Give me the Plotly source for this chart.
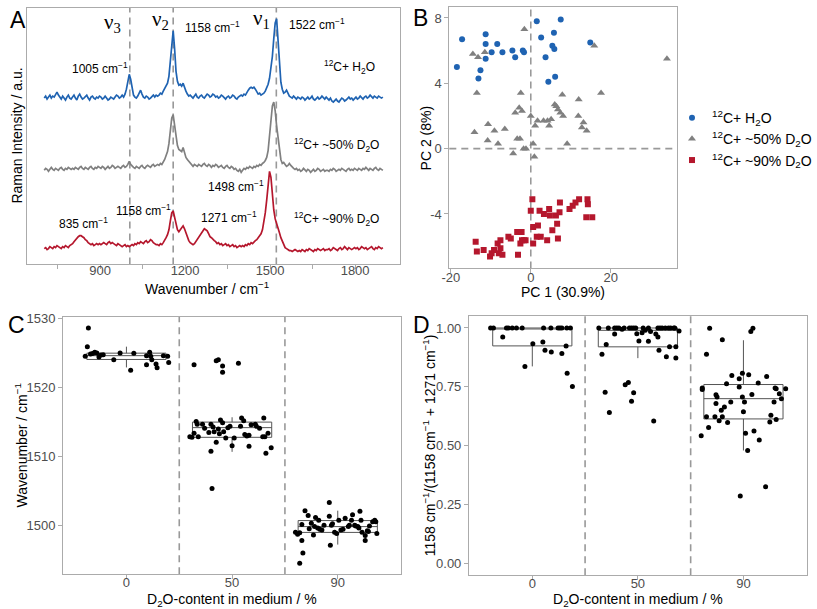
import plotly.graph_objects as go

# ---------------- DATA ----------------
# Panel A: Raman spectra (stacked, arbitrary units), wavenumber grid 703..1898 step 5
wavenumber = list(range(703, 1899, 5))
spec_h2o = [
    168,170,167,169,171,168,170,169,172,174,171,169,167,170,168,166,169,171,168,167,
    169,171,168,166,170,172,169,167,168,170,171,168,166,169,170,168,167,169,168,170,
    169,167,168,170,168,166,167,169,168,167,169,171,170,168,169,171,169,172,177,185,
    192,187,178,171,169,168,170,174,176,172,169,168,170,169,167,168,170,171,169,171,
    170,171,173,172,175,178,180,183,190,205,225,236,218,195,185,181,182,180,183,178,
    175,172,170,171,169,168,170,172,169,168,170,171,169,168,170,172,171,169,170,172,
    171,169,170,168,169,171,170,168,167,169,170,168,169,171,170,168,167,169,170,171,
    170,172,171,174,176,178,179,178,179,177,174,172,173,171,172,173,175,178,182,188,
    197,210,228,244,248,225,200,184,177,173,174,176,173,170,169,168,170,168,167,169,
    168,167,169,168,166,168,169,167,168,170,167,166,168,169,167,168,170,168,167,169,
    167,166,168,165,164,166,167,165,164,166,168,167,165,166,168,169,167,168,166,168,
    169,167,168,170,168,167,169,170,168,169,171,169,168,170,169,168,170,169,168,169]
spec_d2o50 = [
    95,97,96,94,96,98,96,95,97,96,95,97,98,96,95,97,96,98,97,96,
    97,96,98,97,96,98,99,97,96,98,97,96,98,99,97,96,98,97,99,98,
    97,99,98,96,98,99,97,98,100,99,97,98,99,98,97,99,100,98,99,101,
    104,101,99,98,97,99,98,97,99,100,98,97,99,100,99,98,100,101,99,100,
    101,100,102,101,103,106,110,114,122,135,148,151,140,128,120,116,115,114,118,112,
    108,106,104,102,100,99,101,100,99,101,100,99,101,102,100,99,101,100,98,100,
    99,101,100,98,99,100,98,97,99,100,98,97,99,98,96,97,95,94,96,93,
    95,97,96,98,97,99,98,97,99,98,100,99,101,100,102,103,105,108,115,128,
    145,160,164,155,140,128,115,106,102,103,101,99,100,102,100,98,97,96,97,95,
    96,94,95,97,95,94,96,95,93,95,96,94,95,97,96,94,95,96,94,95,
    95,94,96,95,97,96,94,95,96,95,97,96,95,94,96,97,95,96,95,97,
    96,95,97,96,95,97,96,98,96,95,97,96,95,97,98,96,95,97,96,95]
spec_d2o90 = [
    16,17,15,16,18,17,16,18,17,19,18,17,16,18,17,19,18,17,19,20,
    21,23,25,27,28,29,29,28,27,25,24,22,21,20,21,19,20,21,20,21,
    20,21,22,21,20,22,23,21,22,21,20,19,21,20,19,18,19,20,18,19,
    18,19,20,19,21,20,22,21,23,22,21,23,24,22,23,25,24,22,21,20,
    20,19,21,20,22,24,27,30,35,44,52,54,48,40,35,33,35,38,39,36,
    32,27,24,22,21,20,21,23,25,28,30,32,33,36,35,34,31,28,27,25,
    24,23,21,22,20,21,19,20,21,19,20,18,19,20,18,19,17,18,19,18,
    19,18,20,19,21,20,22,21,23,24,25,27,28,31,35,42,52,65,82,94,
    88,70,55,46,42,38,32,27,23,20,17,16,15,14,14,13,14,15,14,13,
    14,13,15,14,13,15,14,16,15,14,13,15,14,16,15,14,15,16,14,15,
    15,16,14,15,17,16,15,14,16,17,15,16,18,16,15,17,16,15,16,17,
    16,17,15,16,18,17,16,17,15,16,17,18,16,15,17,16,18,17,16,17]
band_lines = [1005, 1158, 1522]

# Panel B: PCA scores
pc_h2o_x = [-18.5,-17.2,-13.1,-12.6,-11.3,-11.3,-11.3,-9.8,-8.4,-7.1,-4.6,-3.9,-2.0,-1.7,1.5,2.6,3.7,4.4,5.4,5.8,5.9,6.1,7.5,14.9]
pc_h2o_y = [5.0,6.7,4.3,4.8,7.0,6.4,5.5,5.9,6.4,5.9,6.0,5.6,6.0,5.9,7.8,6.8,5.6,4.1,6.3,7.1,6.1,4.4,7.9,6.5]
pc_50_x = [-14.5,-13.2,-11.5,-13.5,-14.1,-10.7,-9.1,-6.5,-10.8,-8.2,-4.4,-3.9,-3.4,-2.9,-2.5,-2.7,-2.2,-1.8,-1.6,-1.2,
           0.0,0.6,0.9,1.1,1.7,3.2,4.2,5.1,4.6,6.0,6.4,6.8,7.4,7.9,8.1,9.1,12.0,11.9,13.2,12.8,14.0,15.9,17.6,34.1]
pc_50_y = [5.8,5.6,5.9,3.4,1.0,1.5,1.1,1.2,0.5,0.3,-0.3,2.2,0.6,2.5,3.4,0.6,2.3,0.0,7.3,0.0,
           2.0,0.3,-0.5,1.4,1.7,1.7,1.7,1.8,1.4,2.7,2.6,2.4,2.2,3.3,2.0,0.3,3.0,2.0,1.6,1.3,1.1,6.3,3.4,5.5]
pc_90_x = [-13.8,-13.5,-11.8,-10.2,-9.8,-9.2,-8.3,-8.0,-7.6,-7.6,-7.1,-5.6,-5.0,-3.4,-3.2,-2.6,-2.3,-2.2,-1.7,-1.3,
           0.0,0.4,0.6,0.6,1.5,1.8,2.2,2.5,3.3,4.1,4.6,4.8,5.4,6.3,6.6,6.8,7.2,7.3,9.7,10.5,11.2,12.1,13.9,14.2,14.3,15.4]
pc_90_y = [-5.7,-6.3,-6.2,-6.6,-6.4,-6.2,-5.8,-6.4,-5.6,-6.1,-6.5,-5.4,-5.5,-5.1,-6.5,-5.8,-5.1,-5.6,-5.6,-5.6,
           -3.8,-3.1,-4.8,-5.8,-5.4,-4.7,-3.8,-5.4,-4.0,-5.6,-3.7,-4.1,-5.0,-4.1,-4.6,-5.5,-3.9,-3.3,-3.7,-3.5,-3.3,-3.1,-4.2,-3.1,-3.4,-4.2]

# Panels C and D: categories
groups = ["0", "50", "90"]
group_pos = [1, 2, 3]

# Panel C: nu1 band position, box statistics
c_q1 = [1524.05, 1512.8, 1499.06]
c_med = [1524.6, 1514.2, 1499.9]
c_q3 = [1524.96, 1515.0, 1500.77]
c_lo = [1522.9, 1510.7, 1497.3]
c_hi = [1525.9, 1515.7, 1502.2]
# individual cells (horizontal jitter, value)
c0_jit = [-0.39,-0.36,-0.37,-0.34,-0.32,-0.30,-0.28,-0.26,-0.24,-0.22,-0.12,-0.06,0.04,0.07,0.19,0.19,0.22,0.23,0.24,0.28,0.29,0.35,0.39,0.40]
c0_val = [1524.5,1528.6,1525.9,1524.85,1524.9,1525.1,1525.0,1524.4,1524.7,1524.75,1524.0,1525.0,1522.5,1524.95,1523.3,1524.6,1525.1,1524.5,1524.0,1523.4,1522.85,1524.6,1524.5,1523.6]
c1_jit = [-0.36,-0.15,-0.13,-0.09,-0.09,0.06,-0.19,-0.20,-0.40,-0.38,-0.36,-0.34,-0.33,-0.32,-0.28,-0.26,-0.22,-0.20,-0.18,-0.17,
          -0.15,-0.13,-0.12,-0.11,-0.09,-0.08,-0.06,-0.04,-0.02,0.00,0.02,0.08,0.09,0.11,0.12,0.14,0.16,0.16,0.18,0.22,
          0.23,0.26,0.29,0.30,0.31,0.32,0.34,0.37]
c1_val = [1523.3,1523.85,1524.0,1523.1,1522.2,1523.5,1505.4,1510.8,1512.9,1512.8,1513.4,1515.1,1514.7,1512.9,1514.7,1514.1,1513.5,1514.7,1514.3,1513.6,
          1512.1,1514.0,1513.3,1515.3,1514.9,1513.6,1512.7,1514.2,1514.4,1511.6,1512.7,1514.4,1515.6,1515.2,1513.2,1513.0,1513.1,1511.5,1514.6,1514.7,
          1514.4,1514.1,1512.9,1515.6,1512.9,1510.5,1513.4,1511.3]
c2_jit = [-0.08,-0.31,-0.28,-0.21,-0.18,-0.34,-0.25,-0.19,-0.22,-0.17,-0.15,-0.13,-0.08,-0.06,-0.03,-0.01,0.01,0.05,0.07,0.11,
          0.13,0.14,0.16,0.17,0.19,0.20,0.21,0.22,0.23,0.26,0.26,0.28,0.29,0.33,0.35,0.37,-0.40,-0.38,-0.36,-0.34,
          -0.23,-0.07,-0.36,-0.33,0.30,0.36,-0.05,0.10,-0.27,0.03]
c2_val = [1503.4,1502.2,1501.5,1501.2,1500.8,1500.2,1500.4,1499.7,1499.9,1499.5,1499.4,1500.1,1501.4,1500.1,1499.1,1498.9,1500.8,1499.5,1501.1,1500.1,
          1500.8,1501.6,1500.1,1500.0,1499.9,1499.7,1502.1,1500.8,1499.1,1498.6,1497.9,1499.3,1499.2,1500.6,1500.8,1498.9,1499.1,1498.8,1499.0,1497.9,
          1498.7,1497.2,1494.6,1496.1,1500.0,1500.6,1500.3,1499.9,1499.6,1499.4]

# Panel D: band ratio 1158/(1158+1271), box statistics
d_q1 = [0.924, 0.92, 0.614]
d_med = [1.0, 0.99, 0.70]
d_q3 = [1.0, 1.0, 0.76]
d_lo = [0.837, 0.872, 0.48]
d_hi = [1.0, 1.0, 0.948]
d0_jit = [-0.395,-0.368,-0.245,-0.227,-0.19,-0.15,-0.096,0.107,0.176,0.244,0.262,0.28,0.327,0.361,
          -0.28,-0.07,0.005,0.10,0.12,0.18,0.28,0.32,0.33,0.38]
d0_val = [1.0,1.0,1.0,1.0,1.0,1.0,1.0,1.0,1.0,1.0,1.0,1.0,1.0,1.0,
          0.962,0.836,0.933,0.941,0.906,0.898,0.892,0.924,0.808,0.752]
d1_jit = [-0.37,-0.28,-0.22,-0.20,-0.18,-0.13,-0.08,-0.06,-0.04,-0.02,0.05,0.10,0.19,0.21,0.23,0.26,0.29,0.31,0.34,0.35,
          -0.34,-0.30,-0.22,0.01,-0.01,0.04,0.10,0.17,0.19,0.20,0.27,0.30,0.36,0.36,0.39,-0.31,-0.12,-0.09,-0.06,-0.04,
          -0.27,0.15,0.07,0.12,-0.15]
d1_val = [1.0,1.0,1.0,1.0,1.0,1.0,1.0,1.0,1.0,1.0,1.0,1.0,1.0,1.0,1.0,1.0,1.0,1.0,1.0,1.0,
          0.889,0.93,0.975,0.945,0.976,0.98,0.944,0.975,0.962,0.906,0.878,0.92,0.92,0.873,0.987,0.727,0.759,0.769,0.689,0.725,
          0.641,0.605,0.99,0.985,0.995]
d2_jit = [-0.32,-0.35,-0.20,0.07,0.09,-0.39,-0.39,-0.35,-0.33,-0.40,-0.26,-0.25,-0.26,-0.27,-0.21,-0.20,-0.18,-0.23,-0.16,-0.15,
          -0.12,-0.11,-0.04,-0.04,-0.01,-0.01,0.0,0.01,0.02,0.04,0.05,0.08,0.10,0.14,0.15,0.22,0.26,0.29,0.30,0.31,
          0.25,0.31,0.34,0.36,0.40,-0.03,0.21]
d2_val = [0.999,0.889,0.95,0.985,0.999,0.745,0.739,0.623,0.578,0.543,0.717,0.707,0.679,0.623,0.651,0.623,0.665,0.606,0.763,0.599,
          0.686,0.798,0.784,0.749,0.808,0.707,0.644,0.686,0.553,0.48,0.801,0.718,0.563,0.766,0.524,0.794,0.630,0.686,0.745,0.612,
          0.601,0.742,0.721,0.700,0.742,0.287,0.326]

# ---------------- STYLE ----------------
BLUE = "#1f63b2"
GREY = "#808080"
RED = "#b5172d"
FRAME = "#ababab"
TICKTXT = "#4d4d4d"
FONT = "Liberation Sans, Arial, sans-serif"
W, H = 817, 609

def px(x):
    return x / W

def py(y):
    return 1 - y / H

fig = go.Figure()

# Panel A spectra
for ys, col in [(spec_h2o, BLUE), (spec_d2o50, GREY), (spec_d2o90, RED)]:
    fig.add_trace(go.Scatter(x=wavenumber, y=ys, mode="lines", line=dict(color=col, width=1.7),
                             showlegend=False, xaxis="x", yaxis="y", hoverinfo="skip"))

# Panel B
for xs, ys, col, sym, sz, name in [
        (pc_h2o_x, pc_h2o_y, BLUE, "circle", 6, "<sup>12</sup>C+ H<sub>2</sub>O"),
        (pc_50_x, pc_50_y, GREY, "triangle-up", 7, "<sup>12</sup>C+ ~50% D<sub>2</sub>O"),
        (pc_90_x, pc_90_y, RED, "square", 6, "<sup>12</sup>C+ ~90% D<sub>2</sub>O")]:
    fig.add_trace(go.Scatter(x=xs, y=ys, mode="markers", name=name,
                             marker=dict(color=col, symbol=sym, size=sz, line=dict(width=0)),
                             xaxis="x2", yaxis="y2"))

# Panel C / D boxes and points
box_style = dict(width=0.75, whiskerwidth=0, line=dict(color="#555555", width=1),
                 fillcolor="rgba(255,255,255,0)", showlegend=False, hoverinfo="skip")
fig.add_trace(go.Box(x=group_pos, q1=c_q1, median=c_med, q3=c_q3, lowerfence=c_lo, upperfence=c_hi,
                     xaxis="x3", yaxis="y3", **box_style))
fig.add_trace(go.Box(x=group_pos, q1=d_q1, median=d_med, q3=d_q3, lowerfence=d_lo, upperfence=d_hi,
                     xaxis="x4", yaxis="y4", **box_style))

for pos, jit, val, ax in [(group_pos[0], c0_jit, c0_val, "3"), (group_pos[1], c1_jit, c1_val, "3"),
                          (group_pos[2], c2_jit, c2_val, "3"), (group_pos[0], d0_jit, d0_val, "4"),
                          (group_pos[1], d1_jit, d1_val, "4"), (group_pos[2], d2_jit, d2_val, "4")]:
    fig.add_trace(go.Scatter(x=[pos + j for j in jit], y=val, mode="markers",
                             marker=dict(color="black", size=5), showlegend=False,
                             xaxis="x" + ax, yaxis="y" + ax, hoverinfo="skip"))

# ---------------- AXES ----------------
frame = dict(showline=True, mirror=True, linecolor=FRAME, linewidth=1, showgrid=False, zeroline=False,
             ticklen=4, tickcolor=FRAME, tickfont=dict(size=13, color=TICKTXT, family=FONT))

dom_A = ([px(19), px(399)], [py(261), py(2)])
dom_B = ([px(449), px(681)], [py(265), py(1)])
dom_C = ([px(56), px(400)], [py(574), py(314)])
dom_D = ([px(469), px(812.7)], [py(575), py(313.3)])

fig.update_layout(
    xaxis=dict(domain=dom_A[0], range=[641, 1959], anchor="y", ticks="outside", ticklabelstandoff=-10,
               tickvals=[750, 900, 1050, 1200, 1350, 1500, 1650, 1800],
               ticktext=["", "900", "", "1200", "", "1500", "", "1800"], **frame),
    yaxis=dict(domain=dom_A[1], range=[0, 259], anchor="x", showticklabels=False, ticks="", **frame),
    xaxis2=dict(domain=dom_B[0], range=[-20.4, 36.7], anchor="y2", ticks="outside", ticklabelstandoff=-7,
                tickvals=[-20, 0, 20], ticktext=["-20", "0", "20"], **frame),
    yaxis2=dict(domain=dom_B[1], range=[-7.33, 8.67], anchor="x2", ticks="outside",
                tickvals=[-4, 0, 4, 8], ticktext=["-4", "0", "4", "8"], **frame),
    xaxis3=dict(domain=dom_C[0], range=[0.4, 3.6], anchor="y3", ticks="outside", ticklabelstandoff=-8,
                tickvals=group_pos, ticktext=groups, **frame),
    yaxis3=dict(domain=dom_C[1], range=[1493.0, 1530.2], anchor="x3", ticks="outside",
                tickvals=[1500, 1510, 1520, 1530], **frame),
    xaxis4=dict(domain=dom_D[0], range=[0.4, 3.6], anchor="y4", ticks="outside", ticklabelstandoff=-8,
                tickvals=group_pos, ticktext=groups, **frame),
    yaxis4=dict(domain=dom_D[1], range=[-0.05, 1.05], anchor="x4", ticks="outside",
                tickvals=[0, 0.25, 0.5, 0.75, 1.0], ticktext=["0.00", "0.25", "0.50", "0.75", "1.00"], **frame),
)

# ---------------- REFERENCE LINES ----------------
shapes = []
dash_line = dict(color="#999999", width=1.6, dash="7px,5px")
for b in band_lines:
    shapes.append(dict(type="line", xref="x", yref="y domain", x0=b, x1=b, y0=0, y1=1, line=dash_line, layer="below"))
shapes.append(dict(type="line", xref="x2", yref="y2 domain", x0=0, x1=0, y0=0, y1=1, line=dash_line, layer="below"))
shapes.append(dict(type="line", xref="x2 domain", yref="y2", x0=0, x1=1, y0=0, y1=0, line=dash_line, layer="below"))
for ax in ("3", "4"):
    for xb in (1.5, 2.5):
        shapes.append(dict(type="line", xref="x" + ax, yref="y" + ax + " domain", x0=xb, x1=xb, y0=0, y1=1,
                           line=dash_line, layer="below"))

# ---------------- TEXT ----------------
ann = []
def A(text, x, y, size=12, xref="x", yref="y", color="black", family=FONT, angle=0, xanchor="center"):
    ann.append(dict(text=text, x=x, y=y, xref=xref, yref=yref, showarrow=False, textangle=angle,
                    font=dict(size=size, color=color, family=family), xanchor=xanchor, yanchor="middle"))

# panel A labels (data coordinates)
SERIF = "Liberation Serif, Times New Roman, serif"
A("ν<sub>3</sub>", 945, 244, size=21, family=SERIF)
A("ν<sub>2</sub>", 1112, 247, size=21, family=SERIF)
A("ν<sub>1</sub>", 1470, 248, size=21, family=SERIF)
A("1158 cm<sup>−1</sup>", 1298, 240)
A("1522 cm<sup>−1</sup>", 1667, 243)
A("1005 cm<sup>−1</sup>", 900, 198)
A("<sup>12</sup>C+ H<sub>2</sub>O", 1780, 199)
A("<sup>12</sup>C+ ~50% D<sub>2</sub>O", 1735, 121)
A("1498 cm<sup>−1</sup>", 1380, 79)
A("<sup>12</sup>C+ ~90% D<sub>2</sub>O", 1735, 46)
A("1158 cm<sup>−1</sup>", 1055, 55)
A("1271 cm<sup>−1</sup>", 1354, 48)
A("835 cm<sup>−1</sup>", 840, 42)

# axis titles
A("Wavenumber / cm<sup>−1</sup>", px(202), py(285), size=14, xref="paper", yref="paper")
A("Raman Intensity / a.u.", px(9), py(131), size=14, xref="paper", yref="paper", angle=-90)
A("PC 1 (30.9%)", px(565), py(289), size=14, xref="paper", yref="paper")
A("PC 2 (8%)", px(425), py(133), size=14, xref="paper", yref="paper", angle=-90)
A("D<sub>2</sub>O-content in medium / %", px(228), py(600), size=14, xref="paper", yref="paper")
A("Wavenumber / cm<sup>−1</sup>", px(13), py(444), size=14, xref="paper", yref="paper", angle=-90)
A("D<sub>2</sub>O-content in medium / %", px(641), py(600), size=14, xref="paper", yref="paper")
A("1158 cm<sup>−1</sup>/(1158 cm<sup>−1</sup> + 1271 cm<sup>−1</sup>)", px(428), py(444), size=14,
  xref="paper", yref="paper", angle=-90)

# panel letters
for letter, x, y in [("A", 10, 14), ("B", 420, 12), ("C", 9, 322), ("D", 421, 322)]:
    A(letter, px(x), py(y), size=23, xref="paper", yref="paper")

fig.update_layout(
    width=W, height=H, margin=dict(l=0, r=0, t=0, b=0),
    paper_bgcolor="white", plot_bgcolor="white",
    font=dict(family=FONT, size=13, color=TICKTXT),
    shapes=shapes, annotations=ann,
    legend=dict(x=px(676), y=py(97), xanchor="left", yanchor="top", bgcolor="rgba(0,0,0,0)",
                font=dict(size=14, color="black", family=FONT), tracegroupgap=0),
    showlegend=True,
)

fig.write_html("out.html")
